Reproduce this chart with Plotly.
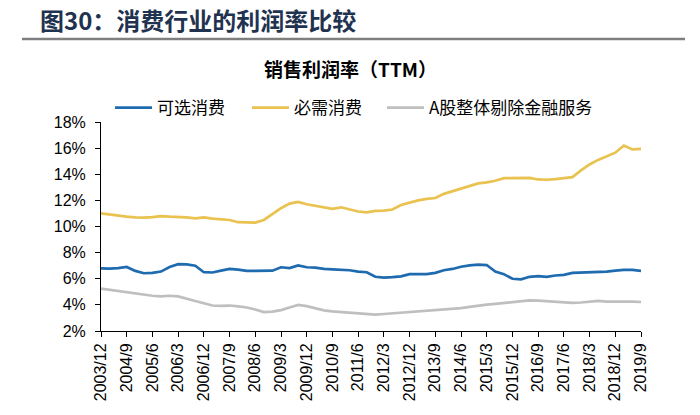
import plotly.graph_objects as go

# Quarterly periods 2003/12 .. 2019/9
periods = []
y, m = 2003, 12
while (y, m) <= (2019, 9):
    periods.append(f"{y}/{m}")
    m += 3
    if m > 12:
        m -= 12
        y += 1

discretionary = [6.8, 6.78, 6.82, 6.9, 6.6, 6.42, 6.45, 6.55, 6.9, 7.12,
                 7.1, 7.0, 6.5, 6.48, 6.62, 6.75, 6.7, 6.6, 6.6, 6.6,
                 6.62, 6.88, 6.82, 7.02, 6.88, 6.85, 6.75, 6.72, 6.68, 6.65,
                 6.55, 6.5, 6.15, 6.08, 6.12, 6.18, 6.35, 6.33, 6.35, 6.45,
                 6.65, 6.75, 6.92, 7.02, 7.08, 7.05, 6.55, 6.35, 6.0, 5.95,
                 6.15, 6.2, 6.15, 6.25, 6.3, 6.45, 6.47, 6.5, 6.5, 6.55,
                 6.62, 6.68, 6.68, 6.6]

staples = [11.0, 10.9, 10.85, 10.75, 10.7, 10.68, 10.72, 10.8, 10.75, 10.75,
           10.7, 10.63, 10.7, 10.6, 10.55, 10.5, 10.33, 10.3, 10.3, 10.5,
           10.95, 11.4, 11.75, 11.88, 11.7, 11.58, 11.5, 11.35, 11.47, 11.3,
           11.15, 11.08, 11.2, 11.22, 11.3, 11.65, 11.85, 12.0, 12.12, 12.18,
           12.5, 12.7, 12.95, 13.15, 13.3, 13.38, 13.5, 13.7, 13.72, 13.7,
           13.72, 13.6, 13.58, 13.62, 13.7, 13.78, 14.3, 14.75, 15.1, 15.35,
           15.65, 16.2, 15.9, 15.95]

a_share_ex_fin = [5.25, 5.15, 5.05, 4.95, 4.85, 4.78, 4.7, 4.65, 4.7, 4.65,
                  4.5, 4.3, 4.12, 3.95, 3.92, 3.95, 3.88, 3.8, 3.65, 3.45,
                  3.48, 3.6, 3.8, 4.0, 3.9, 3.72, 3.58, 3.5, 3.45, 3.42,
                  3.35, 3.28, 3.25, 3.3, 3.35, 3.38, 3.45, 3.48, 3.55, 3.6,
                  3.65, 3.7, 3.75, 3.85, 3.95, 4.02, 4.08, 4.15, 4.22, 4.28,
                  4.35, 4.33, 4.28, 4.2, 4.17, 4.15, 4.18, 4.22, 4.3, 4.25,
                  4.25, 4.3, 4.25, 4.22]

series_names = ["可选消费", "必需消费", "A股整体剔除金融服务"]
series_colors = ["#1F6BB0", "#E9C250", "#BFBFBF"]
tick_labels = periods[::3]

# plot area on the page: x 101..641, y 122..331 (page body margin removed below)
W, H = 700, 415
ML, MT, MR, MB = 101, 122, 59, 84
PW, PH = W - ML - MR, H - MT - MB


def px(xp):
    return (xp - ML) / PW


def py(yp):
    return (H - MB - yp) / PH


legend_ids = ["legend", "legend2", "legend3"]
legend_left = [110, 247, 382]

fig = go.Figure()
for name, vals, col, lid in zip(series_names, [discretionary, staples, a_share_ex_fin],
                                series_colors, legend_ids):
    fig.add_trace(go.Scatter(x=periods, y=vals, mode="lines", name=name, legend=lid,
                             line=dict(color=col, width=2.7)))

legend_common = dict(orientation="h", yanchor="middle", xanchor="left",
                     font=dict(family="Noto Sans CJK SC", size=17, color="#000000"),
                     itemwidth=37, bgcolor="rgba(0,0,0,0)", borderwidth=0)

fig.update_layout(
    width=W, height=H,
    margin=dict(l=ML, r=MR, t=MT, b=MB),
    paper_bgcolor="white", plot_bgcolor="white",
    font=dict(family="Liberation Sans, Arial, sans-serif", color="#000000"),
    showlegend=True,
    legend=dict(x=px(legend_left[0]), y=py(108), **legend_common),
    legend2=dict(x=px(legend_left[1]), y=py(108), **legend_common),
    legend3=dict(x=px(legend_left[2]), y=py(108), **legend_common),
    xaxis=dict(type="category", categoryorder="array", categoryarray=periods,
               range=[0, len(periods) - 1],
               tickmode="array", tickvals=tick_labels, ticktext=tick_labels,
               tickangle=-90, ticks="outside", ticklen=5, tickcolor="#000000",
               showline=True, linecolor="#000000", linewidth=1,
               showgrid=False, zeroline=False,
               tickfont=dict(size=16, color="#000000")),
    yaxis=dict(range=[2, 18], dtick=2, tick0=2, ticksuffix="%",
               ticks="outside", ticklen=5, tickcolor="#000000",
               showline=True, linecolor="#000000", linewidth=1,
               showgrid=False, zeroline=False, ticklabelstandoff=6,
               tickfont=dict(size=16, color="#000000")),
)

fig.add_annotation(text="<b>图30：消费行业的利润率比较</b>", xref="paper", yref="paper",
                   x=px(38), y=py(19), xanchor="left", yanchor="middle",
                   showarrow=False,
                   font=dict(family="Noto Sans CJK SC", size=24, color="#1F3350"))
fig.add_shape(type="line", xref="paper", yref="paper", layer="above",
              x0=px(22), x1=px(685), y0=py(39), y1=py(39),
              line=dict(color="#7F7F7F", width=2.5))
fig.add_annotation(text="<b>销售利润率（TTM）</b>", xref="paper", yref="paper",
                   x=px(350), y=py(68), xanchor="center", yanchor="middle",
                   showarrow=False,
                   font=dict(family="Noto Sans CJK SC", size=19, color="#000000"))

fig.write_html("out.html", config={"displayModeBar": False},
               post_script="document.body.style.margin='0px';")
